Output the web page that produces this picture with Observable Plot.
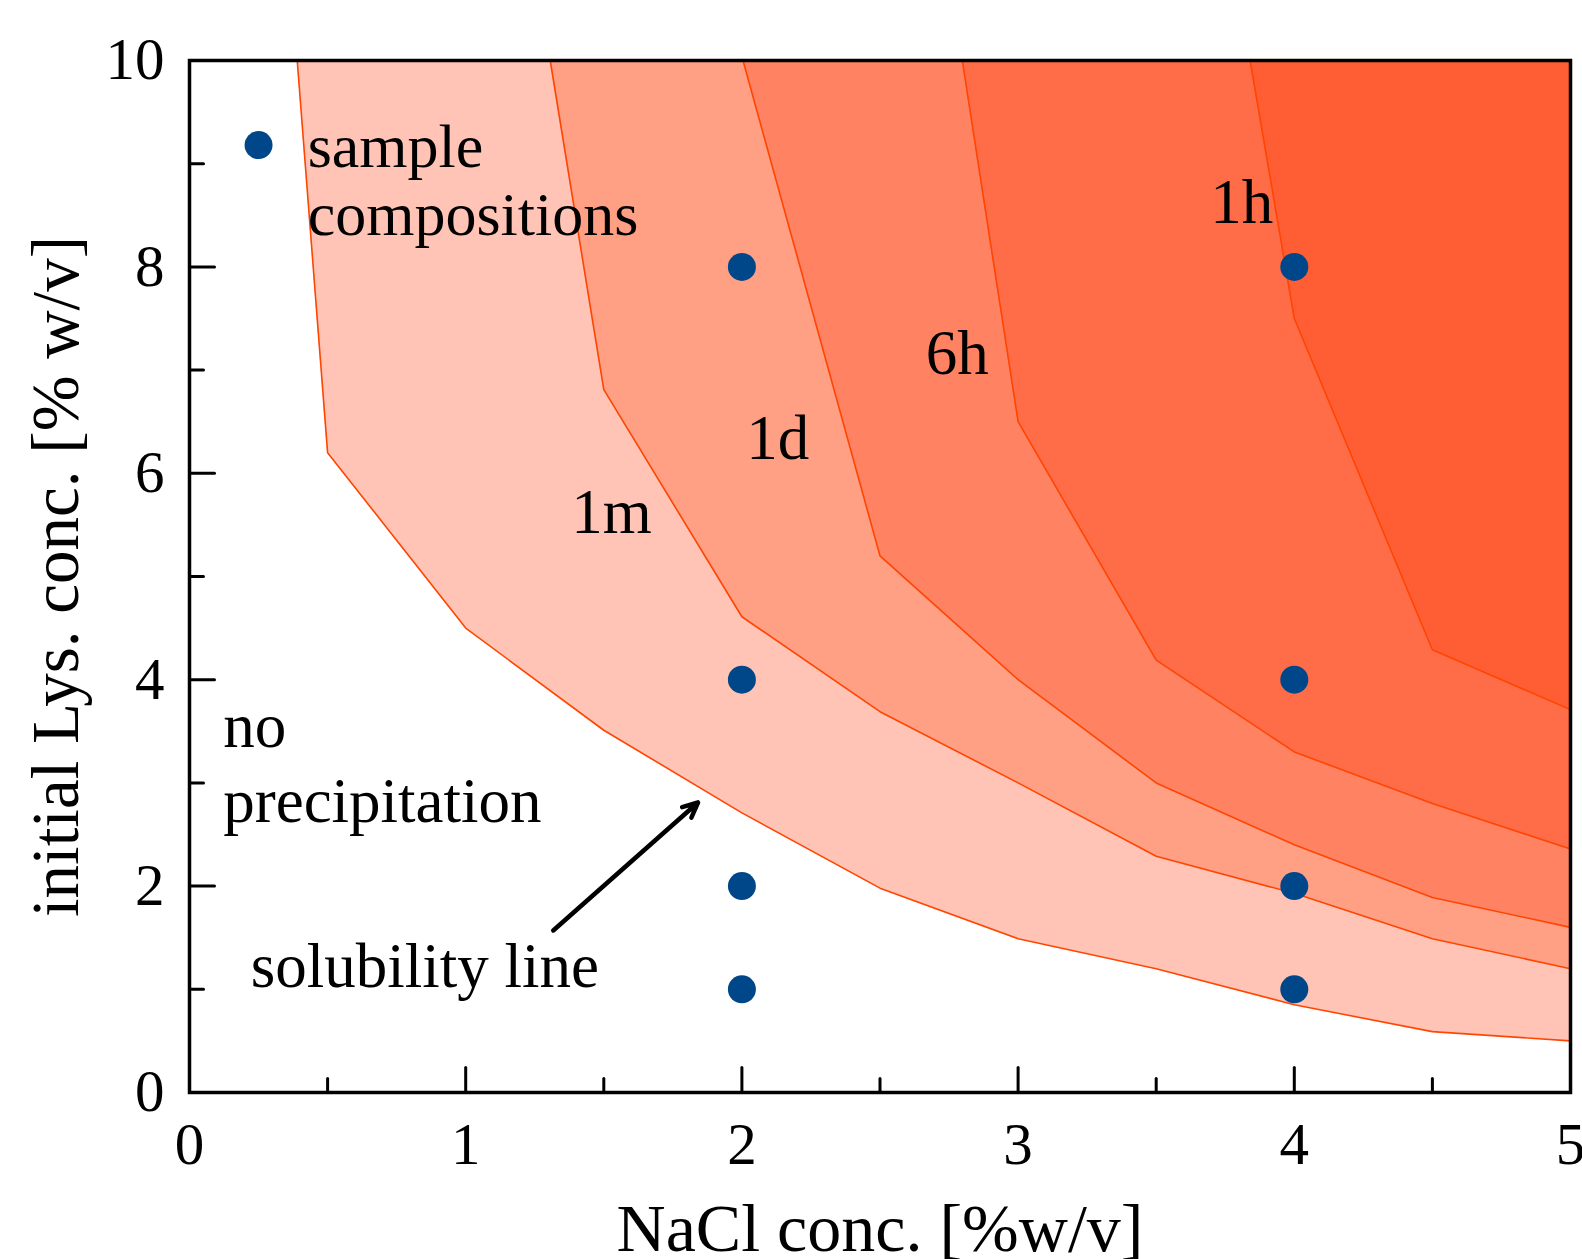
<!DOCTYPE html>
<html>
<head>
<meta charset="utf-8">
<script src="https://cdn.jsdelivr.net/npm/d3@7"></script>
<script src="https://cdn.jsdelivr.net/npm/@observablehq/plot@0.6"></script>
<style>
  html, body { margin: 0; padding: 0; background: #fff; overflow: hidden; }
</style>
</head>
<body>
<div id="chart"></div>
<script>
// Precipitation-time boundaries: [NaCl %w/v, initial Lys %w/v]
const solubilityLine = [[0.39, 10], [0.5, 6.2], [1, 4.5], [1.5, 3.51], [2, 2.71], [2.5, 1.98], [3, 1.49], [3.5, 1.2], [4, 0.85], [4.5, 0.59], [5, 0.5]];
const boundary1m = [[1.306, 10], [1.5, 6.81], [2, 4.61], [2.5, 3.69], [3, 3.0], [3.5, 2.29], [4, 1.93], [4.5, 1.49], [5, 1.2]];
const boundary1d = [[2.004, 10], [2.5, 5.2], [3, 4.0], [3.5, 3.0], [4, 2.4], [4.5, 1.89], [5, 1.6]];
const boundary6h = [[2.798, 10], [3, 6.5], [3.5, 4.19], [4, 3.3], [4.5, 2.8], [5, 2.36]];
const boundary1h = [[3.84, 10], [4, 7.5], [4.5, 4.29], [5, 3.71]];

const zoneFills = ["#FFC4B5", "#FF9F84", "#FF8363", "#FF6C48", "#FF5E35"];

// Sample compositions
const sampleNaCl = [2, 2, 2, 2, 4, 4, 4, 4];
const sampleLys = [8, 4, 2, 1, 8, 4, 2, 1];
const legendDot = [0.25, 9.18];

// Ticks
const xMajor = [0, 1, 2, 3, 4, 5];
const xMinor = [0.5, 1.5, 2.5, 3.5, 4.5];
const yMajor = [0, 2, 4, 6, 8, 10];
const yMinor = [1, 3, 5, 7, 9];

const xTitle = "NaCl conc. [%w/v]";
const yTitle = "initial Lys. conc. [% w/v]";

// Text annotations (x, baseline of last line)
const notes = [
  {x: 0.428, y: 8.31, text: "sample\ncompositions", lh: 1.1, size: 62},
  {x: 1.382, y: 5.42, text: "1m", lh: 1, size: 63},
  {x: 2.016, y: 6.14, text: "1d", lh: 1, size: 63},
  {x: 2.666, y: 6.96, text: "6h", lh: 1, size: 63},
  {x: 3.696, y: 8.43, text: "1h", lh: 1, size: 63},
  {x: 0.122, y: 2.62, text: "no\nprecipitation", lh: 1.19, size: 63},
  {x: 0.222, y: 1.02, text: "solubility line", lh: 1, size: 63}
];
const arrowSeg = [{x1: 1.317, y1: 1.57, x2: 1.841, y2: 2.81}];

const boundaries = [solubilityLine, boundary1m, boundary1d, boundary6h, boundary1h];

const tickShape = {
  draw(context, l) { context.moveTo(0, 0); context.lineTo(0, -l); }
};
const ticks = (data, opts, len) => Plot.vector(data, {
  ...opts, length: len, anchor: "start", shape: tickShape,
  stroke: "black", strokeWidth: 3
});

const chart = Plot.plot({
  width: 1582,
  height: 1259,
  marginLeft: 189,
  marginRight: 12,
  marginTop: 60,
  marginBottom: 167,
  style: {fontFamily: "'Liberation Serif', 'Times New Roman', serif", background: "#fff", color: "#000"},
  x: {domain: [0, 5]},
  y: {domain: [0, 10]},
  marks: [
    ...boundaries.map((b, i) => Plot.areaY(b, {x: d => d[0], y1: d => d[1], y2: 10, fill: zoneFills[i]})),
    ...boundaries.map(b => Plot.line(b, {x: d => d[0], y: d => d[1], stroke: "#FF4500", strokeWidth: 1.6})),
    Plot.frame({stroke: "black", strokeWidth: 3.5}),
    ticks(xMajor, {x: d => d, y: 0, rotate: 0}, 25),
    ticks(xMinor, {x: d => d, y: 0, rotate: 0}, 14),
    ticks(yMajor, {x: 0, y: d => d, rotate: 90}, 25),
    ticks(yMinor, {x: 0, y: d => d, rotate: 90}, 14),
    Plot.axisX(xMajor, {tickSize: 0, tickPadding: 30, fontSize: 59, label: null, tickFormat: d => String(d)}),
    Plot.axisY(yMajor, {tickSize: 0, tickPadding: 25, fontSize: 59, label: null, tickFormat: d => String(d)}),
    Plot.dot(sampleNaCl.map((x, i) => [x, sampleLys[i]]), {x: d => d[0], y: d => d[1], r: 14, fill: "#00478A"}),
    Plot.dot([legendDot], {x: d => d[0], y: d => d[1], r: 14, fill: "#00478A"}),
    ...notes.map(n => Plot.text([n], {x: "x", y: "y", text: "text", textAnchor: "start", lineAnchor: "bottom", lineHeight: n.lh, fontSize: n.size, fill: "black"})),
    Plot.arrow(arrowSeg, {x1: "x1", y1: "y1", x2: "x2", y2: "y2", stroke: "black", strokeWidth: 4.5, headLength: 5.5, headAngle: 50}),
    Plot.text([xTitle], {text: d => d, frameAnchor: "bottom", textAnchor: "middle", dy: 158, lineAnchor: "bottom", fontSize: 68, fill: "black"}),
    Plot.text([yTitle], {text: d => d, frameAnchor: "left", textAnchor: "middle", dx: -133, rotate: -90, fontSize: 67, fill: "black"})
  ]
});
document.getElementById("chart").appendChild(chart);
</script>
</body>
</html>
